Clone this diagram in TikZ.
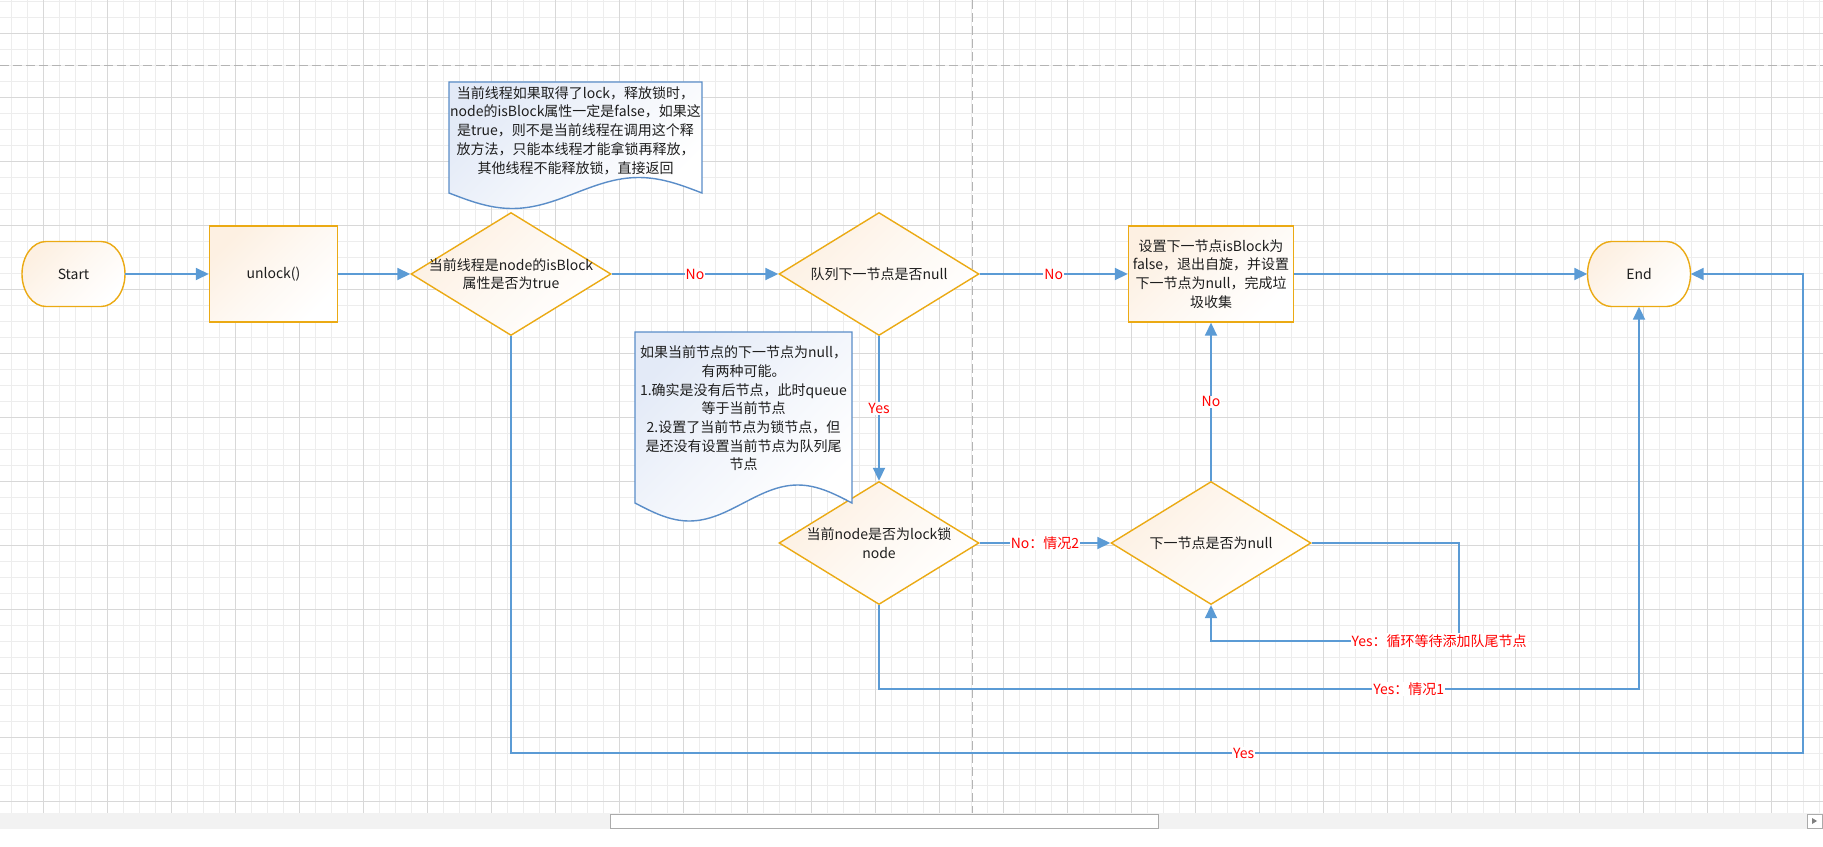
\documentclass[tikz,border=0pt]{standalone}
\usepackage{fontspec}
\setmainfont{Noto Sans CJK SC}
\usetikzlibrary{shapes.geometric,arrows.meta}

\definecolor{gridminor}{HTML}{EDEDED}
\definecolor{gridmajor}{HTML}{D8D8D8}
\definecolor{pagedash}{HTML}{B4B4B4}
\definecolor{connblue}{HTML}{5B9BD5}
\definecolor{shapeline}{HTML}{EBAA14}
\definecolor{shapefill}{HTML}{FDF0E2}
\definecolor{noteline}{HTML}{5A8DC8}
\definecolor{notefill}{HTML}{E3EAF7}
\definecolor{txt}{HTML}{1E1E1E}
\definecolor{lblred}{HTML}{FF0000}
\definecolor{scrollgray}{HTML}{F2F2F2}
\definecolor{thumbgray}{HTML}{ABABAB}

\newcommand\mytermshape[2]{%
  \draw[termline] (#1-27.5,#2-32.5) -- (#1+27.5,#2-32.5)
    arc[start angle=90,end angle=-90,x radius=24pt,y radius=32.5pt]
    -- (#1-27.5,#2+32.5)
    arc[start angle=270,end angle=90,x radius=24pt,y radius=32.5pt] -- cycle;}

\begin{document}
\begin{tikzpicture}[x=1pt,y=-1pt,
  every node/.style={font=\fontsize{14}{18.7}\selectfont, text=txt},
  gminor/.style={draw=gridminor, line width=0.8pt},
  gmajor/.style={draw=gridmajor, line width=0.9pt},
  pdash/.style={draw=pagedash, line width=1pt, dash pattern=on 9pt off 4pt},
  orshade/.style={top color=shapefill, bottom color=white, middle color=white!55!shapefill, shading angle=45},
  termline/.style={draw=shapeline, line width=1.4pt, orshade},
  termtext/.style={rectangle, minimum width=103pt, minimum height=65pt, inner sep=0pt},
  proc/.style={rectangle, draw=shapeline, line width=1.4pt, orshade, inner sep=0pt, align=center},
  dia/.style={diamond, draw=shapeline, line width=1.4pt, orshade, minimum width=200pt, minimum height=123pt, inner sep=0pt},
  dtext/.style={align=center, inner sep=0pt},
  docline/.style={draw=noteline, line width=1.4pt, top color=notefill, bottom color=white, middle color=white!55!notefill, shading angle=45},
  notetext/.style={align=center, inner sep=0pt},
  conn/.style={draw=connblue, line width=1.8pt, -{Triangle[length=13pt,width=12pt]}},
  lbl/.style={fill=white, text=lblred, inner sep=1pt, font=\fontsize{14}{16}\selectfont}
]
\useasboundingbox (0,0) rectangle (1823,846);
\fill[white] (0,0) rectangle (1823,846);

% grid
\foreach \x in {11.7,27.7,...,1823} \draw[gminor] (\x,0) -- (\x,813);
\foreach \y in {1.3,17.3,...,813} \draw[gminor] (0,\y) -- (1823,\y);
\foreach \x in {43.7,107.7,...,1823} \draw[gmajor] (\x,0) -- (\x,813);
\foreach \y in {33.3,97.3,...,813} \draw[gmajor] (0,\y) -- (1823,\y);
\draw[pdash] (0,65.3) -- (1823,65.3);
\draw[pdash] (972,0) -- (972,813);

% terminators
\mytermshape{73.5}{274}
\mytermshape{1639}{274}
\node[termtext] (start) at (73.5,274) {Start};
\node[termtext] (end) at (1639,274) {End};

% process boxes
\node[proc, minimum width=128pt, minimum height=96pt] (unlock) at (273.5,274) {unlock()};
\node[proc, minimum width=165pt, minimum height=96pt] (setbox) at (1211,274)
  {设置下一节点isBlock为\\false，退出自旋，并设置\\下一节点为null，完成垃\\圾收集};

% decisions
\node[dia, label={[dtext]center:{当前线程是node的isBlock\\属性是否为true}}] (d1) at (511,274) {};
\node[dia, label={[dtext]center:{队列下一节点是否null}}] (d2) at (879,274) {};
\node[dia, label={[dtext]center:{当前node是否为lock锁\\node}}] (d3) at (879,543) {};
\node[dia, label={[dtext]center:{下一节点是否为null}}] (d4) at (1211,543) {};

% connectors
\coordinate (c1) at (1459,543);
\coordinate (c2) at (1459,641);
\coordinate (y1) at (1639,689);
\coordinate (c5) at (1803,753);

\draw[conn] (start.east) -- (unlock.west);
\draw[conn] (unlock.east) -- (d1.west);
\draw[conn] (d1.east) -- node[lbl]{No} (d2.west);
\draw[conn] (d2.east) -- node[lbl]{No} (setbox.west);
\draw[conn] (setbox.east) -- (end.west);
\draw[conn] (d2.south) -- node[lbl]{Yes} (d3.north);
\draw[conn] (d3.east) -- node[lbl]{No：情况2} (d4.west);
\draw[conn] (d4.north) -- node[lbl]{No} (setbox.south);
\draw[conn] (d4.east) -- (c1) -- (c2) -- node[lbl,pos=0.08]{Yes：循环等待添加队尾节点} (d4.south |- c2) -- (d4.south);
\draw[conn] (d3.south) -- (d3.south |- y1) -- node[lbl,pos=0.697]{Yes：情况1} (end.south |- y1) -- (end.south);
\draw[conn] (d1.south) -- (d1.south |- c5) -- node[lbl,pos=0.567]{Yes} (c5) -- (c5 |- end.east) -- (end.east);

% notes (document shapes)
\draw[docline] (449,82) -- (702,82) -- (702,193) sin (638.75,177.5) cos (575.5,193) sin (512.25,208.5) cos (449,193) -- cycle;
\node[notetext] (n1) at (575.5,130.5)
  {当前线程如果取得了lock，释放锁时，\\node的isBlock属性一定是false，如果这\\是true，则不是当前线程在调用这个释\\放方法，只能本线程才能拿锁再释放，\\其他线程不能释放锁，直接返回};

\draw[docline] (635,332) -- (852,332) -- (852,503) sin (797.75,485) cos (743.5,503) sin (689.25,521) cos (635,503) -- cycle;
\node[notetext] (n2) at (743.5,408.5)
  {如果当前节点的下一节点为null，\\有两种可能。\\1.确实是没有后节点，此时queue\\等于当前节点\\2.设置了当前节点为锁节点，但\\是还没有设置当前节点为队列尾\\节点};

% scrollbar
\fill[scrollgray] (0,813) rectangle (1823,829);
\draw[thumbgray, fill=white, line width=1pt] (610,814) rectangle (1158,828);
\draw[thumbgray, fill=white, line width=1pt] (1807,814) rectangle (1822,828);
\fill[gray] (1812,818) -- (1817,821) -- (1812,824) -- cycle;
\end{tikzpicture}
\end{document}
